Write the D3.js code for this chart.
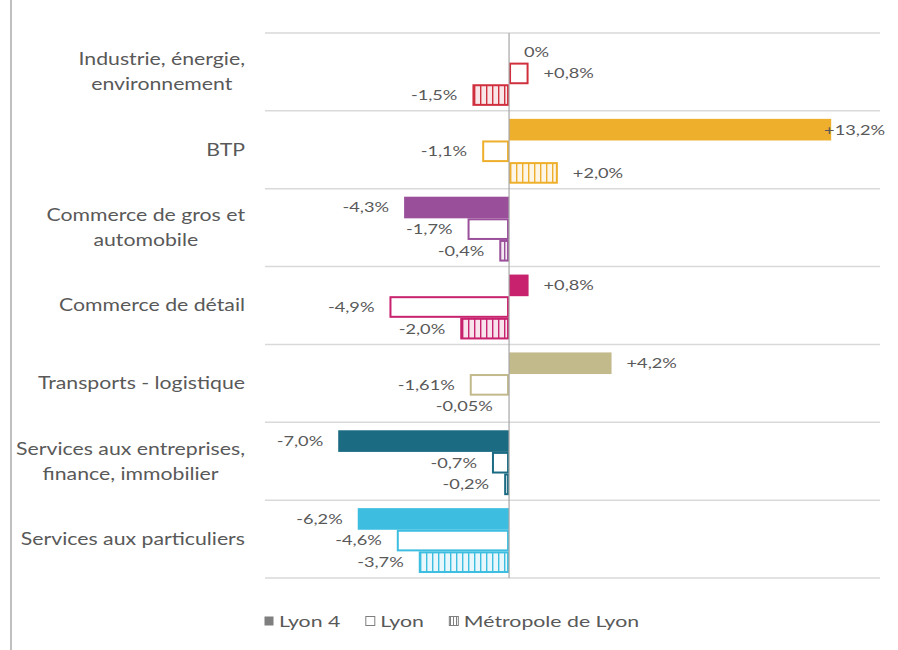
<!DOCTYPE html>
<html>
<head>
<meta charset="utf-8">
<script src="https://cdn.jsdelivr.net/npm/d3@7"></script>
<style>
  html, body { margin: 0; padding: 0; background: #fff; }
  svg { display: block; font-family: Lato, "Open Sans", sans-serif; }
</style>
</head>
<body>
<svg id="chart" width="898" height="650"></svg>
<script>
const categories = [
  ["Industrie, énergie,", "environnement"],
  ["BTP"],
  ["Commerce de gros et", "automobile"],
  ["Commerce de détail"],
  ["Transports - logistique"],
  ["Services aux entreprises,", "finance, immobilier"],
  ["Services aux particuliers"]
];
const seriesNames = ["Lyon 4", "Lyon", "Métropole de Lyon"];
const lyon4 = [0, 13.2, -4.3, 0.8, 4.2, -7.0, -6.2];
const lyon = [0.8, -1.1, -1.7, -4.9, -1.61, -0.7, -4.6];
const metropole = [-1.5, 2.0, -0.4, -2.0, -0.05, -0.2, -3.7];
const lyon4Labels = ["0%", "+13,2%", "-4,3%", "+0,8%", "+4,2%", "-7,0%", "-6,2%"];
const lyonLabels = ["+0,8%", "-1,1%", "-1,7%", "-4,9%", "-1,61%", "-0,7%", "-4,6%"];
const metropoleLabels = ["-1,5%", "+2,0%", "-0,4%", "-2,0%", "-0,05%", "-0,2%", "-3,7%"];
const catColors = ["#d0303e", "#eeaf2d", "#9a4f9b", "#c8216d", "#c3ba8c", "#1b6b83", "#3dbee0"];
const xDomain = [-10, 15.2];

const svg = d3.select("#chart");
const W = 898, H = 650;
const plot = { left: 265, right: 880, top: 33, bottom: 578 };
const textColor = "#595959";

const x = d3.scaleLinear().domain(xDomain).range([plot.left, plot.right]);
const y = d3.scaleBand().domain(d3.range(categories.length)).range([plot.top, plot.bottom]).padding(0);
const ySub = d3.scaleBand().domain([0, 1, 2]).range([1.5, y.bandwidth() + 1.5]).paddingInner(0).paddingOuter(0.3);

// horizontally stretched text helper (the reference glyphs are wide)
function stretchedText(parent, str, tx, ty, anchor, sx) {
  const g = parent.append("g").attr("transform", `translate(${tx},${ty}) scale(${sx},1)`);
  const t = g.append("text").text(str).attr("x", 0).attr("y", 0).attr("dy", "0.35em").attr("text-anchor", anchor);
  return { g, t, width: () => t.node().getComputedTextLength() * sx };
}

// patterns
const defs = svg.append("defs");
catColors.forEach((c, i) => {
  const p = defs.append("pattern").attr("id", "pat" + i)
    .attr("patternUnits", "userSpaceOnUse").attr("width", 6).attr("height", 6);
  p.append("rect").attr("width", 6).attr("height", 6).attr("fill", d3.interpolateRgb("#ffffff", c)(0.12));
  p.append("rect").attr("x", 0).attr("width", 1.4).attr("height", 6).attr("fill", c);
});
const lp = defs.append("pattern").attr("id", "patLegend")
  .attr("patternUnits", "userSpaceOnUse").attr("width", 3).attr("height", 3);
lp.append("rect").attr("width", 3).attr("height", 3).attr("fill", "#fff");
lp.append("rect").attr("width", 1).attr("height", 3).attr("fill", "#7f7f7f");

// left frame line
svg.append("line").attr("x1", 11).attr("x2", 11).attr("y1", 0).attr("y2", H)
  .attr("stroke", "#bfbfbf").attr("stroke-width", 2);

// gridlines (category separators)
const sepYs = d3.range(categories.length + 1).map(i => i < categories.length ? y(i) : y(categories.length - 1) + y.bandwidth());
svg.append("g").selectAll("line").data(sepYs).join("line")
  .attr("x1", plot.left).attr("x2", plot.right)
  .attr("y1", d => d).attr("y2", d => d)
  .attr("stroke", "#d9d9d9").attr("stroke-width", 1.5);

// bars
const series = [
  { values: lyon4, labels: lyon4Labels, style: "solid" },
  { values: lyon, labels: lyonLabels, style: "outline" },
  { values: metropole, labels: metropoleLabels, style: "pattern" }
];
const barG = svg.append("g");
const labelG = svg.append("g").attr("font-size", 14).attr("fill", textColor);
const valSx = 1.3;

series.forEach((s, si) => {
  s.values.forEach((v, ci) => {
    const c = catColors[ci];
    const y0 = y(ci) + ySub(si);
    const h = ySub.bandwidth();
    const xa = x(Math.min(0, v)), xb = x(Math.max(0, v));
    if (v !== 0) {
      const r = barG.append("rect")
        .attr("x", s.style === "solid" ? xa : xa + 1)
        .attr("y", s.style === "solid" ? y0 : y0 + 1)
        .attr("width", Math.max(0, s.style === "solid" ? xb - xa : xb - xa - 2))
        .attr("height", s.style === "solid" ? h : h - 2);
      if (s.style === "solid") r.attr("fill", c);
      else if (s.style === "outline") r.attr("fill", "#fff").attr("stroke", c).attr("stroke-width", 2);
      else r.attr("fill", "url(#pat" + ci + ")").attr("stroke", c).attr("stroke-width", 2);
    }
    const cy = y0 + h / 2;
    if (v >= 0) {
      const tx = x(v) + 15;
      const lbl = stretchedText(labelG, s.labels[ci], tx, cy, "start", valSx);
      if (tx + lbl.width() > plot.right + 5) {
        lbl.g.attr("transform", `translate(${plot.right + 5},${cy}) scale(${valSx},1)`);
        lbl.t.attr("text-anchor", "end");
      }
    } else {
      stretchedText(labelG, s.labels[ci], x(v) - 15, cy, "end", valSx);
    }
  });
});

// zero axis
svg.append("line").attr("x1", x(0)).attr("x2", x(0))
  .attr("y1", plot.top).attr("y2", plot.bottom)
  .attr("stroke", "#a6a6a6").attr("stroke-width", 1.2);

// category labels
const catG = svg.append("g").attr("font-size", 17).attr("fill", textColor);
const lineH = 25;
const catSx = 1.25;
categories.forEach((lines, i) => {
  const cy = y(i) + y.bandwidth() / 2;
  const items = lines.map((ln, k) =>
    stretchedText(catG, ln, 0, cy + (k - (lines.length - 1) / 2) * lineH, "middle", catSx));
  const maxW = d3.max(items.map(it => it.width()));
  const right = 245;
  items.forEach((it, k) => it.g.attr("transform",
    `translate(${right - maxW / 2},${cy + (k - (lines.length - 1) / 2) * lineH}) scale(${catSx},1)`));
});

// legend
const legend = svg.append("g").attr("font-size", 16).attr("fill", textColor);
const legendItems = [
  { name: seriesNames[0], fill: "#7f7f7f", stroke: "none" },
  { name: seriesNames[1], fill: "#fff", stroke: "#7f7f7f" },
  { name: seriesNames[2], fill: "url(#patLegend)", stroke: "#7f7f7f" }
];
let lx = 264;
const ly = 621;
legendItems.forEach(it => {
  legend.append("rect").attr("x", lx + 0.5).attr("y", ly - 4.5).attr("width", 9).attr("height", 9)
    .attr("fill", it.fill).attr("stroke", it.stroke).attr("stroke-width", 1);
  const lbl = stretchedText(legend, it.name, lx + 15, ly, "start", 1.33);
  lx += 15 + lbl.width() + 25;
});
</script>
</body>
</html>
